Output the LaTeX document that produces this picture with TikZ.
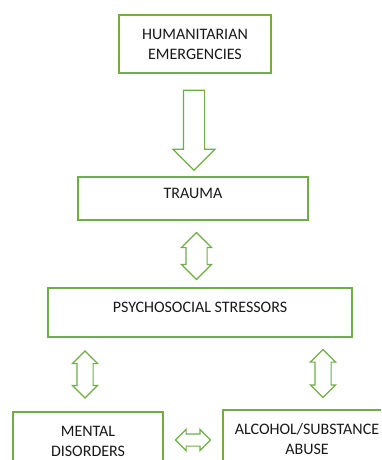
\documentclass[tikz,border=0pt]{standalone}
\usepackage{fontspec}
\setmainfont{Carlito}
\usepackage{tikz}
\usetikzlibrary{shapes.arrows,calc}
\definecolor{leafgreen}{RGB}{112,173,71}
\tikzstyle{box}       = [draw=leafgreen,line width=1.3pt,align=center,inner sep=0mm,text=black!90]
\tikzstyle{downarrow} = [draw=leafgreen,line width=1.2pt,single arrow,single arrow head extend=10.5pt,inner sep=10pt,rotate=-90]
\tikzstyle{twoway}    = [draw=leafgreen,line width=1.2pt,double arrow,double arrow head extend=4.5pt]

\begin{document}
\begin{tikzpicture}[x=1pt,y=1pt,font=\fontsize{16}{20}\selectfont]
\useasboundingbox (0,0) rectangle (381,-460);
\clip (0,0) rectangle (381,-460);

\node[box,minimum width=152pt,minimum height=58pt] (HE) at (195,-44)   {HUMANITARIAN\\EMERGENCIES};
\node[box,minimum width=230pt,minimum height=43pt,text depth=11pt] (TR) at (193,-198.5) {TRAUMA};
\node[box,minimum width=304pt,minimum height=49pt,text depth=11pt] (PS) at (200,-312.5) {PSYCHOSOCIAL STRESSORS};
\node[box,minimum width=150pt,minimum height=58pt] (MD) at (88,-441)   {MENTAL\\DISORDERS};
\node[box,minimum width=168pt,minimum height=58pt] (AS) at (307,-439)  {ALCOHOL/SUBSTANCE\\ABUSE};

% block arrows between the boxes
\node[downarrow,minimum height=80pt] (A1) at ($(HE.south)!0.5!(TR.north)$) {};
\node[twoway,inner sep=10pt,minimum height=47pt,rotate=90]  (A2) at ($(TR.south)!0.5!(PS.north)+(0,-2)$) {};
\node[twoway,inner sep=7.5pt,minimum height=47pt,rotate=90] (A3) at ($(PS.south -| MD.north)!0.5!(MD.north)+(-3,0)$) {};
\node[twoway,inner sep=7.5pt,minimum height=48pt,rotate=90] (A4) at ($(PS.south -| AS.north)!0.5!(AS.north)+(16,0)$) {};
\node[twoway,inner sep=5.5pt,minimum height=35pt]           (A5) at ($(MD.east)!0.5!(AS.west)$) {};

\end{tikzpicture}
\end{document}
